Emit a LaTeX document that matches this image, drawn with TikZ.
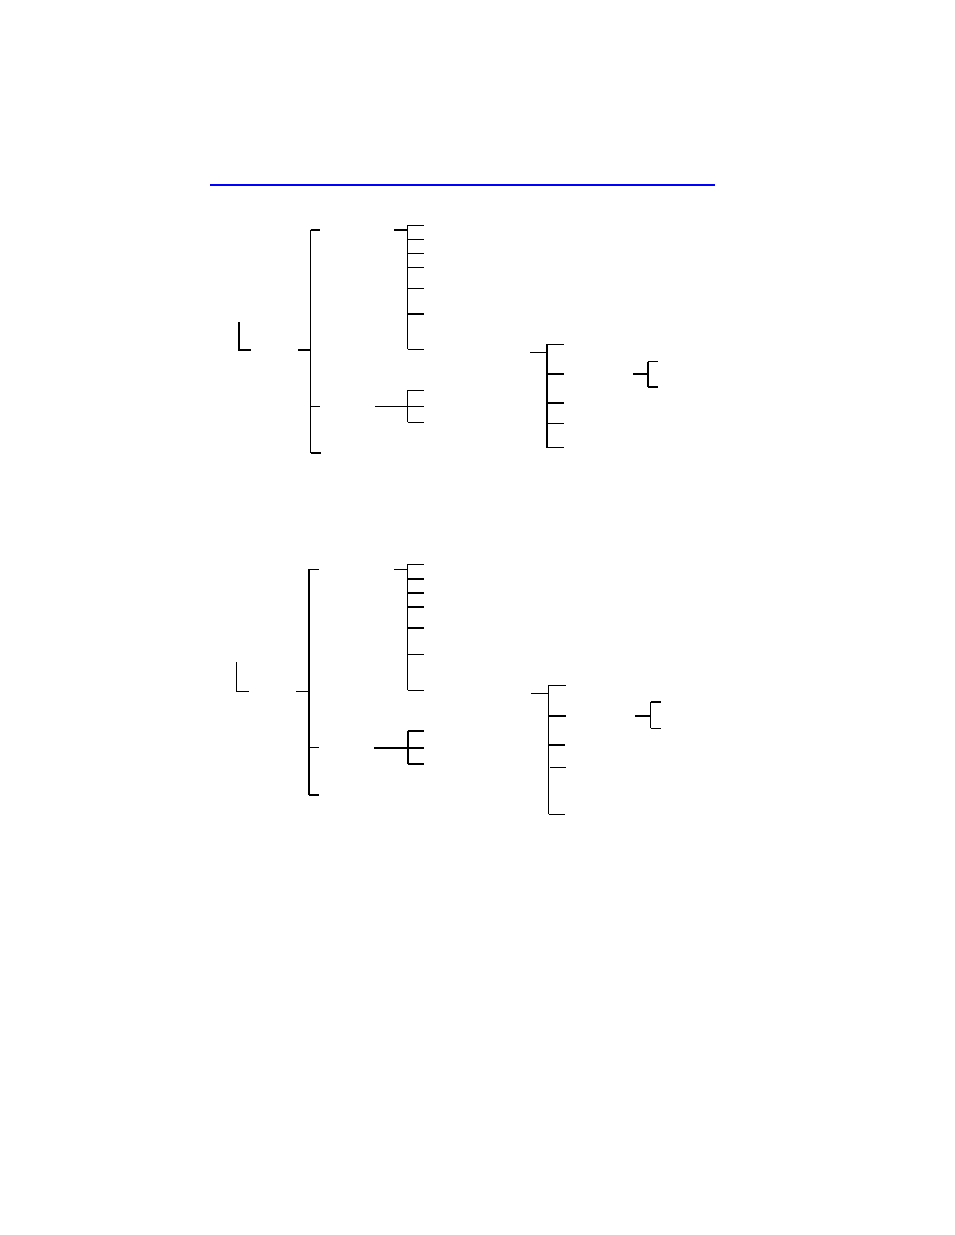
\documentclass[tikz,border=0pt]{standalone}
\usepackage{tikz}
\usetikzlibrary{calc}
\definecolor{ruleBlue}{HTML}{0000FF}

\begin{document}
\begin{tikzpicture}[x=1pt, y=-1pt,
    thinline/.style={black, line width=1.1pt},
    thickline/.style={black, line width=2pt}]
  \useasboundingbox[fill=white] (0,0) rectangle (954,1235);
  % Heading rule
  \draw[ruleBlue, line width=2.2pt] (210,185) -- (715,185);

  % ---- Upper tree ----
  \draw[thickline] (238.5,322) -- (238.5,350) -- (251,350);
  % main bracket
  \draw[thinline] (298,350) -- (310.5,350);
  \draw[thinline] (310.5,229.7) -- (310.5,453);
  \draw[thickline] (310.5,230) -- (320,230);
  \draw[thinline] (310.5,406.3) -- (320,406.3);
  \draw[thinline] (310.5,453) -- (320.5,453);
  % first branch
  \draw[thinline] (394.3,230) -- (407.7,230);
  \draw[thinline] (407.7,225.3) -- (407.7,349.3);
  \foreach \y in {225.3,239.3,253.3,267.3,288.3,349.3}
    \draw[thinline] (407.7,\y) -- (424.3,\y);
  \draw[thickline] (407.7,314) -- (424.3,314);
  % second branch
  \draw[thinline] (375.3,406.3) -- (407.7,406.3);
  \draw[thinline] (407.7,390.3) -- (407.7,422.3);
  \foreach \y in {390.3,406.3,422.3}
    \draw[thinline] (407.7,\y) -- (424.3,\y);
  % right bracket
  \draw[thinline] (530,352.3) -- (546.7,352.3);
  \draw[thickline] (546.7,344.3) -- (546.7,447.7);
  \foreach \y in {344.3,403,423.3,447.3}
    \draw[thinline] (546.7,\y) -- (564.3,\y);
  \draw[thickline] (546.7,374.3) -- (564.3,374.3);
  % small bracket
  \draw[thickline] (633.3,374.3) -- (647.7,374.3);
  \draw[thickline] (647.7,361.7) -- (647.7,387);
  \draw[thinline] (647.7,361.7) -- (657.7,361.7);
  \draw[thickline] (647.7,387) -- (657.7,387);

  % ---- Lower tree ----
  \draw[thinline] (236.3,662.3) -- (236.3,691.3) -- (249,691.3);
  % main bracket
  \draw[thinline] (296.3,691.3) -- (308.7,691.3);
  \draw[thickline] (308.7,569.3) -- (308.7,795);
  \draw[thinline] (308.7,569.3) -- (319,569.3);
  \draw[thinline] (308.7,747.3) -- (319,747.3);
  \draw[thinline] (308.7,795) -- (319,795);
  % first branch
  \draw[thinline] (394.3,569.3) -- (407.7,569.3);
  \draw[thinline] (407.7,564.3) -- (407.7,690.3);
  \foreach \y in {564.3,654.3,690.3}
    \draw[thinline] (407.7,\y) -- (424.3,\y);
  \foreach \y in {579,593,607,627.7}
    \draw[thickline] (407.7,\y) -- (424.3,\y);
  % second branch
  \draw[thinline] (374,748) -- (407.7,748);
  \draw[thickline] (407.7,731.3) -- (407.7,764);
  \draw[thickline] (407.7,731.3) -- (424.3,731.3);
  \draw[thinline] (407.7,748) -- (424.3,748);
  \draw[thickline] (407.7,764) -- (424.3,764);
  % right bracket
  \draw[thinline] (531,693.3) -- (548.7,693.3);
  \draw[thinline] (548.7,685.3) -- (548.7,814.3);
  \draw[thinline] (548.7,685.3) -- (565.7,685.3);
  \draw[thickline] (548.7,715.7) -- (565.7,715.7);
  \draw[thickline] (548.7,745) -- (565,745);
  \draw[thinline] (550,767.3) -- (565.7,767.3);
  \draw[thinline] (548.7,814.3) -- (565,814.3);
  % small bracket
  \draw[thickline] (635,715.7) -- (650.7,715.7);
  \draw[thinline] (650.7,702) -- (650.7,728.3);
  \draw[thickline] (650.7,702) -- (661,702);
  \draw[thinline] (650.7,728.3) -- (661,728.3);
\end{tikzpicture}
\end{document}
